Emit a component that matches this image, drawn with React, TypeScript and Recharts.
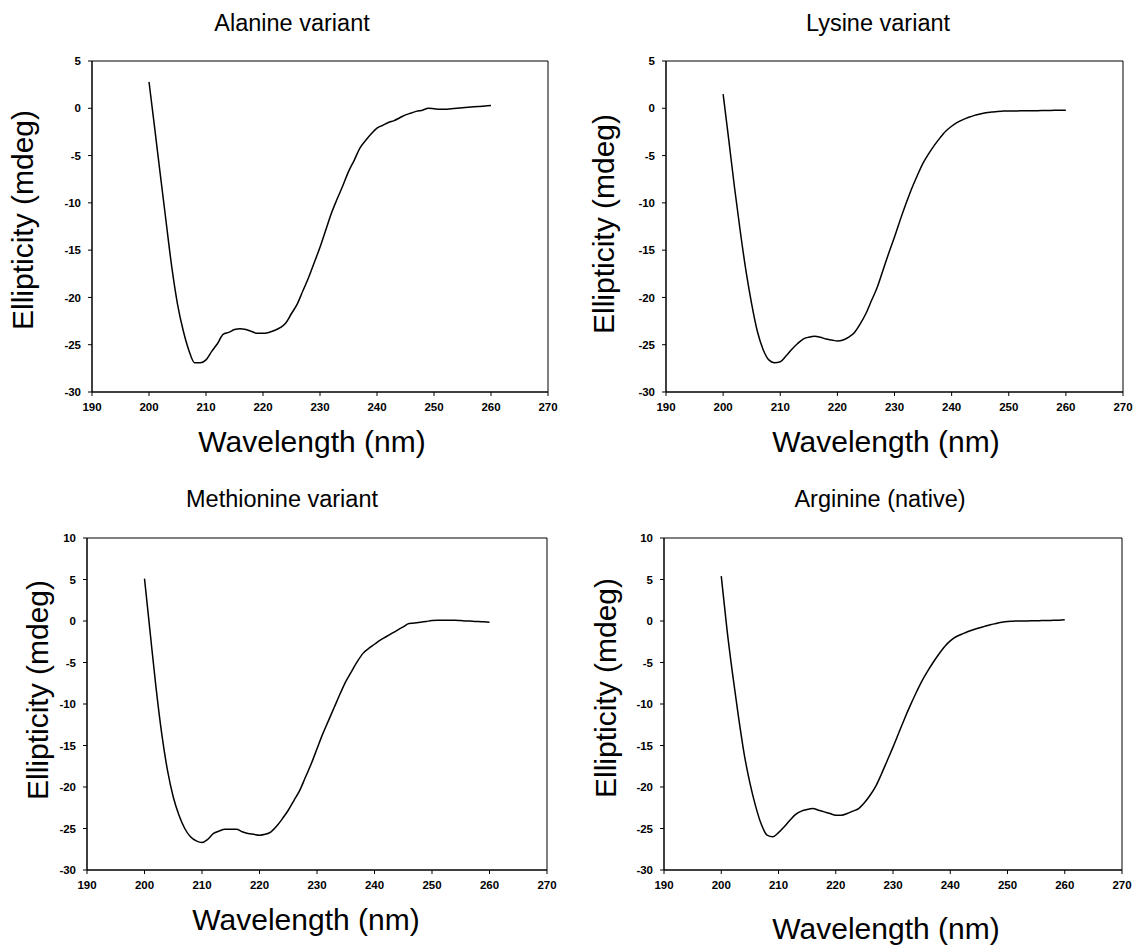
import { LineChart, Line, XAxis, YAxis, ReferenceArea } from "recharts";

const wavelength = [
  200, 201, 202, 203, 204, 205, 206, 207, 208, 209, 210, 211, 212, 213, 214, 215, 216, 217, 218, 219, 220,
  221, 222, 223, 224, 225, 226, 227, 228, 229, 230, 231, 232, 233, 234, 235, 236, 237, 238, 239, 240,
  241, 242, 243, 244, 245, 246, 247, 248, 249, 250, 251, 252, 253, 254, 255, 256, 257, 258, 259, 260,
];

const alanine = [
  2.8, -2.1, -7.1, -12.0, -16.8, -20.7, -23.5, -25.6, -26.9, -26.9, -26.6, -25.7, -24.9, -23.9, -23.7, -23.4, -23.3, -23.4, -23.6, -23.8, -23.8,
  -23.7, -23.5, -23.2, -22.7, -21.7, -20.7, -19.3, -17.9, -16.3, -14.7, -12.9, -11.1, -9.6, -8.2, -6.7, -5.5, -4.2, -3.4, -2.7, -2.1,
  -1.8, -1.5, -1.3, -1.0, -0.7, -0.5, -0.3, -0.2, 0.0, -0.05, -0.1, -0.1, -0.05, 0, 0.05, 0.1, 0.15, 0.2, 0.25, 0.3,
];

const lysine = [
  1.5, -3.4, -8.4, -13.0, -17.2, -20.7, -23.6, -25.5, -26.6, -26.9, -26.8, -26.2, -25.5, -24.9, -24.4, -24.2, -24.1, -24.2, -24.4, -24.5, -24.6,
  -24.5, -24.2, -23.7, -22.8, -21.7, -20.3, -18.9, -17.1, -15.3, -13.6, -11.8, -10.1, -8.5, -7.1, -5.8, -4.8, -3.9, -3.1, -2.4, -1.9,
  -1.5, -1.2, -0.95, -0.75, -0.6, -0.48, -0.4, -0.33, -0.3, -0.28, -0.28, -0.27, -0.27, -0.26, -0.25, -0.24, -0.23, -0.22, -0.21, -0.2,
];

const methionine = [
  5.1, -1.5, -8.0, -13.6, -18.0, -21.2, -23.4, -25.0, -26.0, -26.5, -26.7, -26.3, -25.6, -25.3, -25.1, -25.1, -25.1, -25.4, -25.6, -25.7, -25.8,
  -25.7, -25.4, -24.7, -23.8, -22.8, -21.6, -20.4, -18.8, -17.2, -15.4, -13.6, -12.0, -10.4, -8.8, -7.3, -6.1, -4.9, -3.9, -3.3, -2.8,
  -2.3, -1.9, -1.5, -1.1, -0.7, -0.3, -0.25, -0.15, -0.05, 0.05, 0.1, 0.1, 0.08, 0.1, 0.05, 0.0, -0.02, -0.05, -0.1, -0.15,
];

const arginine = [
  5.4, -1.0, -6.5, -11.5, -16.0, -19.5, -22.3, -24.5, -25.8, -26.0, -25.5, -24.8, -24.0, -23.3, -22.9, -22.7, -22.6, -22.8, -23.0, -23.2, -23.4,
  -23.4, -23.2, -22.9, -22.6, -21.9, -21.0, -19.9, -18.4, -16.8, -15.2, -13.5, -11.8, -10.2, -8.7, -7.3, -6.1, -5.0, -4.0, -3.1, -2.4,
  -1.9, -1.6, -1.3, -1.05, -0.85, -0.65, -0.45, -0.3, -0.15, -0.05, -0.02, 0.0, 0.01, 0.02, 0.03, 0.05, 0.06, 0.08, 0.1, 0.15,
];

const xTicks = [190, 200, 210, 220, 230, 240, 250, 260, 270];
const yTicksTop = [-30, -25, -20, -15, -10, -5, 0, 5];
const yTicksBottom = [-30, -25, -20, -15, -10, -5, 0, 5, 10];

const FONT = '"Liberation Sans", Arial, sans-serif';

interface PanelProps {
  title: string;
  values: number[];
  yTicks: number[];
  box: [number, number, number, number]; // plot left, top, right, bottom
  titleAt: [number, number];
  yLabelAt: [number, number];
  xLabelAt: [number, number];
}

function Text({ at, size, rotate, children }: { at: [number, number]; size: number; rotate?: boolean; children: string }) {
  return (
    <div
      style={{
        position: "absolute",
        left: at[0],
        top: at[1],
        transform: `translate(-50%, -50%)${rotate ? " rotate(-90deg)" : ""}`,
        fontFamily: FONT,
        fontSize: size,
        whiteSpace: "nowrap",
        color: "#000",
        lineHeight: 1,
      }}
    >
      {children}
    </div>
  );
}

function Panel({ title, values, yTicks, box, titleAt, yLabelAt, xLabelAt }: PanelProps) {
  const [x0, y0, x1, y1] = box;
  const yAxisW = 40;
  const mTop = 8;
  const mRight = 16;
  const xAxisH = 30;
  const data = wavelength.map((w, i) => ({ w, v: values[i] }));
  const yMin = yTicks[0];
  const yMax = yTicks[yTicks.length - 1];
  const tick = { fontSize: 11.5, fontWeight: 700, fill: "#000", fontFamily: FONT };

  return (
    <>
      <Text at={titleAt} size={23.5}>{title}</Text>
      <Text at={yLabelAt} size={30} rotate>Ellipticity (mdeg)</Text>
      <Text at={xLabelAt} size={30}>Wavelength (nm)</Text>
      <div style={{ position: "absolute", left: x0 - yAxisW, top: y0 - mTop }}>
        <LineChart
          width={x1 - x0 + yAxisW + mRight}
          height={y1 - y0 + mTop + xAxisH}
          data={data}
          margin={{ top: mTop, right: mRight, left: 0, bottom: 0 }}
        >
          <XAxis
            dataKey="w"
            type="number"
            domain={[190, 270]}
            ticks={xTicks}
            height={xAxisH}
            tickSize={4}
            tickMargin={7}
            tick={tick}
            axisLine={{ stroke: "#000" }}
            tickLine={{ stroke: "#000" }}
            interval={0}
          />
          <YAxis
            type="number"
            domain={[yMin, yMax]}
            ticks={yTicks}
            width={yAxisW}
            tickSize={4}
            tickMargin={7}
            tick={tick}
            axisLine={{ stroke: "#000" }}
            tickLine={{ stroke: "#000" }}
            interval={0}
          />
          <ReferenceArea x1={190} x2={270} y1={yMin} y2={yMax} fill="none" stroke="#000" strokeWidth={1} />
          <Line
            type="monotone"
            dataKey="v"
            stroke="#000"
            strokeWidth={1.5}
            dot={false}
            isAnimationActive={false}
          />
        </LineChart>
      </div>
    </>
  );
}

export default function App() {
  return (
    <div style={{ position: "absolute", left: 0, top: 0, width: 1135, height: 949, background: "#fff" }}>
      <Panel
        title="Alanine variant"
        values={alanine}
        yTicks={yTicksTop}
        box={[92, 61, 548, 392]}
        titleAt={[292, 24]}
        yLabelAt={[23, 220]}
        xLabelAt={[312, 442]}
      />
      <Panel
        title="Lysine variant"
        values={lysine}
        yTicks={yTicksTop}
        box={[666, 61, 1123, 392]}
        titleAt={[878, 24]}
        yLabelAt={[604, 224]}
        xLabelAt={[886, 442]}
      />
      <Panel
        title="Methionine variant"
        values={methionine}
        yTicks={yTicksBottom}
        box={[87, 538, 547, 870]}
        titleAt={[282, 500]}
        yLabelAt={[38, 690]}
        xLabelAt={[306, 920]}
      />
      <Panel
        title="Arginine (native)"
        values={arginine}
        yTicks={yTicksBottom}
        box={[664, 538, 1122, 870]}
        titleAt={[880, 500]}
        yLabelAt={[606, 688]}
        xLabelAt={[886, 929]}
      />
    </div>
  );
}
